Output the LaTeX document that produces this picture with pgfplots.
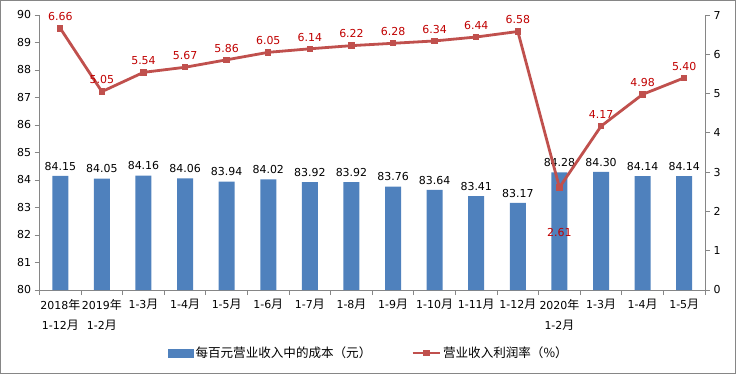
\documentclass[border=0pt]{standalone}
\usepackage{pgfplots}
\pgfplotsset{compat=1.18}
\usepackage{fontspec}
\setmainfont{DejaVu Sans}
\newfontfamily\cjk{Noto Sans CJK SC}
\newcommand\cj[1]{{\cjk\fontsize{12}{20}\selectfont #1}}
\definecolor{barblue}{HTML}{4F81BD}
\definecolor{linered}{HTML}{C0504D}
\definecolor{labred}{HTML}{C00000}
\definecolor{axgray}{HTML}{868686}
\pgfplotsset{/pgf/number format/assume math mode=true}
\begin{document}
\begin{tikzpicture}[x=1bp,y=1bp]
\useasboundingbox (0,0) rectangle (736,374);
\draw[axgray, line width=0.8bp] (0.5,0.5) rectangle (735.5,373.5);
\begin{axis}[
  at={(39.5bp,84bp)}, anchor=south west,
  scale only axis, width=665.5bp, height=275bp,
  xmin=-0.5, xmax=15.5, ymin=80, ymax=90,
  axis y line*=left, axis x line*=bottom,
  axis line style={axgray, line width=0.8bp, -},
  xtick={0,...,15},
  xticklabels={{2018\cj{年}\\1-12\cj{月}},{2019\cj{年}\\1-2\cj{月}},{1-3\cj{月}},{1-4\cj{月}},{1-5\cj{月}},{1-6\cj{月}},{1-7\cj{月}},{1-8\cj{月}},{1-9\cj{月}},{1-10\cj{月}},{1-11\cj{月}},{1-12\cj{月}},{2020\cj{年}\\1-2\cj{月}},{1-3\cj{月}},{1-4\cj{月}},{1-5\cj{月}}},
  minor xtick={-0.5,0.5,...,15.5},
  major x tick style={draw=none},
  minor x tick style={axgray, line width=0.8bp},
  ytick={80,81,...,90},
  y tick style={axgray, line width=0.8bp},
  tick align=outside,
  major tick length=5bp, minor tick length=5bp,
  xticklabel style={font=\fontsize{11}{20}\selectfont, align=center, anchor=north, yshift=-1bp},
  yticklabel style={font=\fontsize{11}{13}\selectfont},
  clip=false,
]
\addplot[ybar, bar width=16bp, fill=barblue, draw=none,
  nodes near coords={\pgfmathprintnumber[fixed,fixed zerofill,precision=2]{\pgfplotspointmeta}},
  every node near coord/.append style={font=\fontsize{11}{13}\selectfont, black, anchor=south, yshift=2bp}]
  coordinates {(0,84.15) (1,84.05) (2,84.16) (3,84.06) (4,83.94) (5,84.02) (6,83.92) (7,83.92) (8,83.76) (9,83.64) (10,83.41) (11,83.17) (12,84.28) (13,84.30) (14,84.14) (15,84.14)};
\end{axis}
\begin{axis}[
  at={(39.5bp,84bp)}, anchor=south west,
  scale only axis, width=665.5bp, height=275bp,
  xmin=-0.5, xmax=15.5, ymin=0, ymax=7,
  axis y line*=right, axis x line=none,
  axis line style={axgray, line width=0.8bp, -},
  ytick={0,1,...,7},
  y tick style={axgray, line width=0.8bp},
  tick align=outside, major tick length=5bp,
  yticklabel style={font=\fontsize{11}{13}\selectfont},
  clip=false,
  legend columns=2,
  legend style={at={(0.495,-0.229)}, anchor=center, draw=none, fill=none,
    font=\cjk\fontsize{12.6}{14}\selectfont,
    /tikz/every even column/.append style={column sep=38bp}},
]
\addlegendimage{legend image code/.code={\fill[barblue] (0bp,-4bp) rectangle (25bp,4bp);}}
\addlegendentry{每百元营业收入中的成本（元）}
\addplot[linered, line width=2.8bp, mark=square*, mark size=1.8bp, mark options={fill=linered, draw=linered},
  legend image code/.code={\draw[linered, line width=2.8bp] (0bp,0bp) -- (27bp,0bp); \fill[linered] (11.5bp,-2bp) rectangle (15.5bp,2bp);}]
  coordinates {(0,6.66) (1,5.05) (2,5.54) (3,5.67) (4,5.86) (5,6.05) (6,6.14) (7,6.22) (8,6.28) (9,6.34) (10,6.44) (11,6.58) (12,2.61) (13,4.17) (14,4.98) (15,5.40)};
\addlegendentry{营业收入利润率（\%）}
\addplot[draw=none, forget plot,
  nodes near coords={\pgfmathprintnumber[fixed,fixed zerofill,precision=2]{\pgfplotspointmeta}},
  every node near coord/.append style={font=\fontsize{11}{13}\selectfont, labred, anchor=south, yshift=4bp}]
  coordinates {(0,6.66) (1,5.05) (2,5.54) (3,5.67) (4,5.86) (5,6.05) (6,6.14) (7,6.22) (8,6.28) (9,6.34) (10,6.44) (11,6.58) (13,4.17) (14,4.98) (15,5.40)};
\addplot[draw=none, forget plot,
  nodes near coords={\pgfmathprintnumber[fixed,fixed zerofill,precision=2]{\pgfplotspointmeta}},
  every node near coord/.append style={font=\fontsize{11}{13}\selectfont, labred, anchor=north, yshift=-37bp}]
  coordinates {(12,2.61)};
\end{axis}
\end{tikzpicture}
\end{document}
